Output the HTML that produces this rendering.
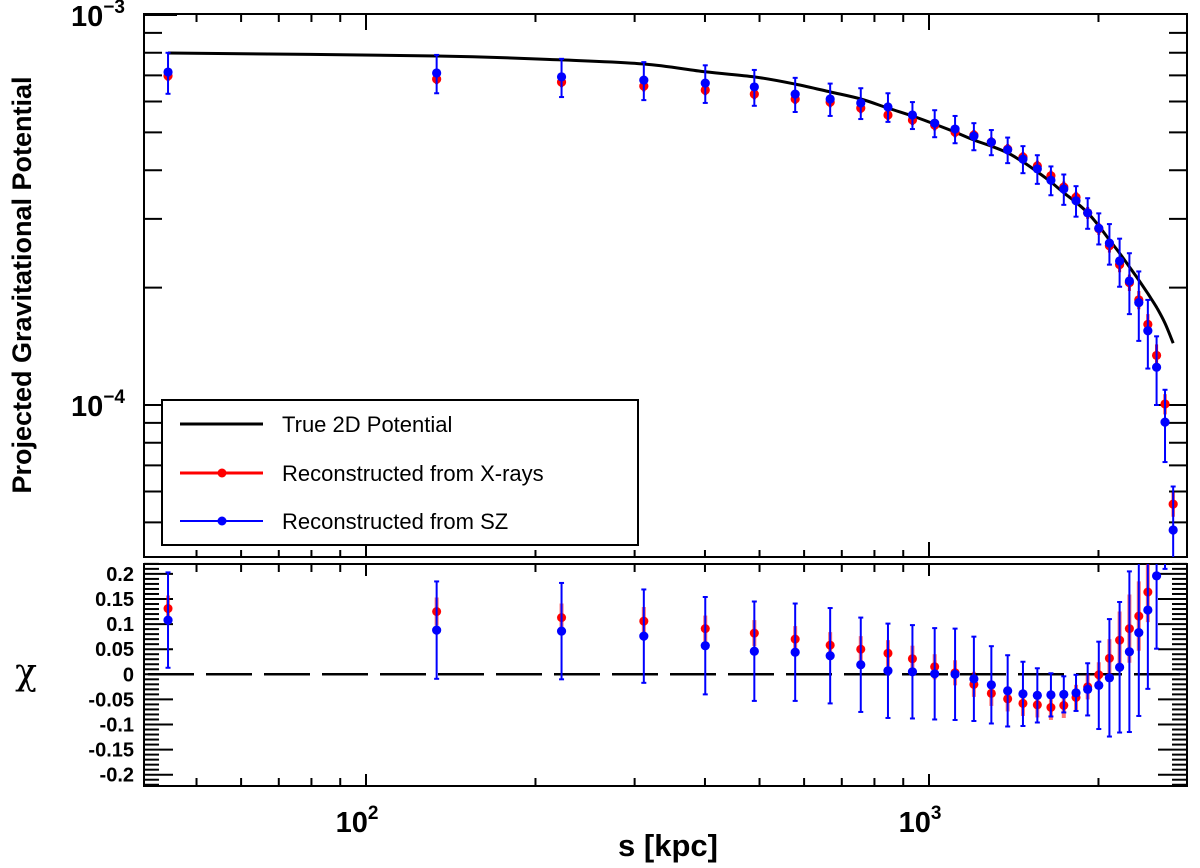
<!DOCTYPE html>
<html><head><meta charset="utf-8"><style>
html,body{margin:0;padding:0;background:#fff;overflow:hidden;}
svg{display:block;font-family:"Liberation Sans",Arial,sans-serif;}
</style></head><body>
<svg id="chart" width="1200" height="868" viewBox="0 0 1200 868">
<defs>
<clipPath id="clipTop"><rect x="144" y="15" width="1043" height="542"/></clipPath>
<clipPath id="clipChi"><rect x="144" y="564" width="1043" height="222"/></clipPath>
</defs>
<g id="axes"></g>
<g id="marks"></g>
<text x="31" y="285" transform="rotate(-90 31 285)" text-anchor="middle" font-size="27" font-weight="bold">Projected Gravitational Potential</text>
<text x="26" y="684" text-anchor="middle" font-size="36" font-family="'DejaVu Serif',serif">χ</text>
<text x="668" y="856" text-anchor="middle" font-size="31" font-weight="bold">s [kpc]</text>
<g>
<rect x="162" y="400" width="476" height="145" fill="#fff" stroke="#000" stroke-width="2"/>
<g>
<line x1="180" y1="424" x2="263" y2="424" stroke="#000" stroke-width="3"/>
<text x="282" y="432" font-size="22">True 2D Potential</text></g>
<g>
<line x1="180" y1="473" x2="263" y2="473" stroke="#f00" stroke-width="3"/>
<circle cx="222" cy="473" r="4.5" fill="#f00"/>
<text x="282" y="481" font-size="22">Reconstructed from X-rays</text></g>
<g>
<line x1="180" y1="521" x2="263" y2="521" stroke="#00f" stroke-width="2"/>
<circle cx="222" cy="521" r="4.5" fill="#00f"/>
<text x="282" y="529" font-size="22">Reconstructed from SZ</text></g>
</g>
</svg>
<script>
const radii = [44.5,133.5,222.5,311.5,400.5,489.5,578.5,667.5,756.5,845.5,934.5,1023.5,1112.5,1201.5,1290.5,1379.5,1468.5,1557.5,1646.5,1735.5,1824.5,1913.5,2002.5,2091.5,2180.5,2269.5,2358.5,2447.5,2536.5,2625.5,2714.5];
const truePotential = [7.99e-4,7.85e-4,7.67e-4,7.49e-4,7.15e-4,6.94e-4,6.65e-4,6.35e-4,6.09e-4,5.77e-4,5.51e-4,5.25e-4,5.01e-4,4.78e-4,4.61e-4,4.43e-4,4.20e-4,3.96e-4,3.73e-4,3.50e-4,3.31e-4,3.11e-4,2.88e-4,2.65e-4,2.45e-4,2.26e-4,2.09e-4,1.93e-4,1.78e-4,1.62e-4,1.44e-4];
const xrayValues = [6.98e-4,6.85e-4,6.73e-4,6.57e-4,6.42e-4,6.27e-4,6.09e-4,5.98e-4,5.77e-4,5.54e-4,5.38e-4,5.22e-4,5.01e-4,4.92e-4,4.72e-4,4.53e-4,4.32e-4,4.10e-4,3.87e-4,3.62e-4,3.41e-4,3.11e-4,2.83e-4,2.56e-4,2.29e-4,2.06e-4,1.86e-4,1.61e-4,1.34e-4,1.006e-4,5.57e-5];
const xrayErrors = [2.1e-5,2.0e-5,2.0e-5,2.0e-5,1.9e-5,1.9e-5,1.8e-5,1.8e-5,1.7e-5,1.7e-5,1.6e-5,1.6e-5,1.5e-5,1.5e-5,1.4e-5,1.4e-5,1.3e-5,1.3e-5,1.2e-5,1.2e-5,1.1e-5,1.1e-5,1.0e-5,1.0e-5,1.0e-5,1.0e-5,1.0e-5,1.0e-5,9e-6,6e-6,4e-6];
const szValues = [7.14e-4,7.10e-4,6.94e-4,6.81e-4,6.69e-4,6.54e-4,6.27e-4,6.09e-4,5.95e-4,5.81e-4,5.54e-4,5.28e-4,5.10e-4,4.89e-4,4.72e-4,4.51e-4,4.27e-4,4.03e-4,3.77e-4,3.58e-4,3.34e-4,3.11e-4,2.84e-4,2.60e-4,2.34e-4,2.08e-4,1.83e-4,1.55e-4,1.25e-4,9.04e-5,4.78e-5];
const szErrors = [8.6e-5,8.0e-5,7.8e-5,7.6e-5,7.4e-5,6.9e-5,6.3e-5,5.8e-5,5.4e-5,4.9e-5,4.4e-5,4.2e-5,4.1e-5,3.9e-5,3.5e-5,3.4e-5,3.4e-5,3.4e-5,3.2e-5,3.2e-5,3.0e-5,2.8e-5,2.6e-5,3.1e-5,3.3e-5,3.7e-5,3.7e-5,3.1e-5,2.5e-5,1.9e-5,1.4e-5];
const xrayChi = [0.131,0.125,0.113,0.106,0.091,0.082,0.070,0.058,0.050,0.042,0.031,0.015,0.003,-0.020,-0.038,-0.049,-0.058,-0.061,-0.066,-0.062,-0.046,-0.025,-0.001,0.032,0.068,0.091,0.116,0.164,0.30,0.45,0.80];
const xrayChiErr = [0.026,0.028,0.028,0.028,0.026,0.026,0.026,0.026,0.026,0.026,0.026,0.025,0.025,0.025,0.025,0.025,0.025,0.025,0.025,0.025,0.025,0.025,0.025,0.038,0.057,0.068,0.069,0.06,0.06,0.06,0.06];
const szChi = [0.108,0.088,0.086,0.076,0.057,0.046,0.044,0.037,0.019,0.007,0.005,0.001,0.000,-0.009,-0.021,-0.033,-0.039,-0.042,-0.041,-0.040,-0.037,-0.030,-0.022,-0.007,0.014,0.045,0.083,0.128,0.196,0.35,0.6];
const szChiErr = [0.095,0.097,0.096,0.093,0.097,0.099,0.097,0.095,0.094,0.094,0.093,0.091,0.091,0.084,0.077,0.071,0.064,0.054,0.043,0.036,0.036,0.052,0.087,0.117,0.130,0.160,0.166,0.157,0.145,0.14,0.14];
const xTickLabels = [{v:100,t:"2"},{v:1000,t:"3"}];
const yTopLabels = [{v:1e-3,t:"−3"},{v:1e-4,t:"−4"}];
const chiTickLabels = [0.2,0.15,0.1,0.05,0,-0.05,-0.1,-0.15,-0.2];

const L=144,R=1187,TT=15,TB=557,CT=564,CB=786;
const X = s => 366 + 563*(Math.log10(s)-2);
const YT = v => 15 + 390*(-3 - Math.log10(v));
const YC = c => 674.3 - 502*c;
const NS="http://www.w3.org/2000/svg";
function mk(tag,attrs,parent){const e=document.createElementNS(NS,tag);for(const k in attrs)e.setAttribute(k,attrs[k]);parent.appendChild(e);return e;}
const axes=document.getElementById('axes'), marks=document.getElementById('marks');

const f1=mk('rect',{x:L,y:TT-1,width:R-L,height:TB-TT+1,fill:'none',stroke:'#000','stroke-width':2},axes);


const f2=mk('rect',{x:L,y:CT,width:R-L,height:CB-CT,fill:'none',stroke:'#000','stroke-width':2},axes);



const xt=[];
for(const d of [10,100,1000]) for(let m=1;m<10;m++){const v=d*m; if(v>=41&&v<=2880) xt.push(v);}
for(const v of xt){
  const x=X(v), major=(v===100||v===1000);
  const lt=major?15:7, lc=major?12:8;
  mk('line',{x1:x,y1:TB,x2:x,y2:TB-lt,stroke:'#000','stroke-width':2},axes);
  mk('line',{x1:x,y1:TT,x2:x,y2:TT+lt,stroke:'#000','stroke-width':2},axes);
  mk('line',{x1:x,y1:CB,x2:x,y2:CB-lc,stroke:'#000','stroke-width':2},axes);
  mk('line',{x1:x,y1:CT,x2:x,y2:CT+lc,stroke:'#000','stroke-width':2},axes);
}
for(const o of xTickLabels){
  const t=mk('text',{x:X(o.v)-9,y:832,'text-anchor':'middle','font-size':29,'font-weight':'bold'},axes);
  
  
  t.textContent='10';
  const sp=mk('tspan',{dy:-13,'font-size':19},t); sp.textContent=o.t;
}
for(const d of [1e-5,1e-4]) for(let m=1;m<10;m++){
  const v=d*m, y=YT(v); if(y<TT-1||y>TB) continue;
  const major=(m===1); const len=major?33:18;
  mk('line',{x1:L,y1:y,x2:L+len,y2:y,stroke:'#000','stroke-width':2},axes);
  mk('line',{x1:R,y1:y,x2:R-len,y2:y,stroke:'#000','stroke-width':2},axes);
}
mk('line',{x1:L,y1:TT,x2:L+33,y2:TT,stroke:'#000','stroke-width':2},axes);
for(const o of yTopLabels){
  const t=mk('text',{x:98,y:YT(o.v)+11,'text-anchor':'middle','font-size':29,'font-weight':'bold'},axes);
  
  
  t.textContent='10';
  const sp=mk('tspan',{dy:-13,'font-size':19},t); sp.textContent=o.t;
}
for(let i=-22;i<=22;i++){
  const c=i/100, y=YC(c); const major=(i%5===0); const len=major?29:15;
  mk('line',{x1:L,y1:y,x2:L+len,y2:y,stroke:'#000','stroke-width':2},axes);
  mk('line',{x1:R,y1:y,x2:R-len,y2:y,stroke:'#000','stroke-width':2},axes);
}
for(const c of chiTickLabels){
  const t=mk('text',{x:134,y:YC(c)+7,'text-anchor':'end','font-size':20,'font-weight':'bold'},axes);
  
  
  t.textContent=String(c);
}
const zl=mk('line',{x1:144,y1:YC(0),x2:R,y2:YC(0),stroke:'#000','stroke-width':2.5,'stroke-dasharray':'46 12','stroke-dashoffset':'-4'},marks);



const gTop=mk('g',{'clip-path':'url(#clipTop)'},marks);
const pts=radii.map((s,i)=>[X(s),YT(truePotential[i])]);
let dPath='M'+pts[0][0].toFixed(1)+' '+pts[0][1].toFixed(1);
for(let i=0;i<pts.length-1;i++){
  const p0=pts[Math.max(0,i-1)],p1=pts[i],p2=pts[i+1],p3=pts[Math.min(pts.length-1,i+2)];
  const c1=[p1[0]+(p2[0]-p0[0])/6,p1[1]+(p2[1]-p0[1])/6];
  const c2=[p2[0]-(p3[0]-p1[0])/6,p2[1]-(p3[1]-p1[1])/6];
  dPath+=' C'+c1[0].toFixed(1)+' '+c1[1].toFixed(1)+' '+c2[0].toFixed(1)+' '+c2[1].toFixed(1)+' '+p2[0].toFixed(1)+' '+p2[1].toFixed(1);
}
const cur=mk('path',{d:dPath,fill:'none',stroke:'#000','stroke-width':3},gTop);



function series(g,vals,errs,yf,color,ew,name,cap,isLog){
  radii.forEach((s,i)=>{
    const x=X(s), v=vals[i], e=errs[i];
    const y1=yf(v+e);
    const y2=isLog ? ((v-e>0)?yf(v-e):2000) : yf(v-e);
    const ln=mk('line',{x1:x,y1:y1,x2:x,y2:y2,stroke:color,'stroke-width':ew},g);
    
    
    if(cap){
      mk('line',{x1:x-2.5,y1:y1,x2:x+2.5,y2:y1,stroke:color,'stroke-width':2},g);
      mk('line',{x1:x-2.5,y1:y2,x2:x+2.5,y2:y2,stroke:color,'stroke-width':2},g);
    }
    const c=mk('circle',{cx:x,cy:yf(v),r:4.6,fill:color},g);
    
    
  });
}
series(gTop,xrayValues,xrayErrors,YT,'#f00',3,'xray',false,true);
series(gTop,szValues,szErrors,YT,'#00f',2,'sz',true,true);

const gChi=mk('g',{'clip-path':'url(#clipChi)'},marks);
series(gChi,xrayChi,xrayChiErr,YC,'rgba(255,0,0,0.55)',4,'xray-chi',false,false);
radii.forEach((s,i)=>{const c=mk('circle',{cx:X(s),cy:YC(xrayChi[i]),r:4.4,fill:'#f00'},gChi);

});
series(gChi,szChi,szChiErr,YC,'#00f',2,'sz-chi',true,false);
</script>
</body></html>
